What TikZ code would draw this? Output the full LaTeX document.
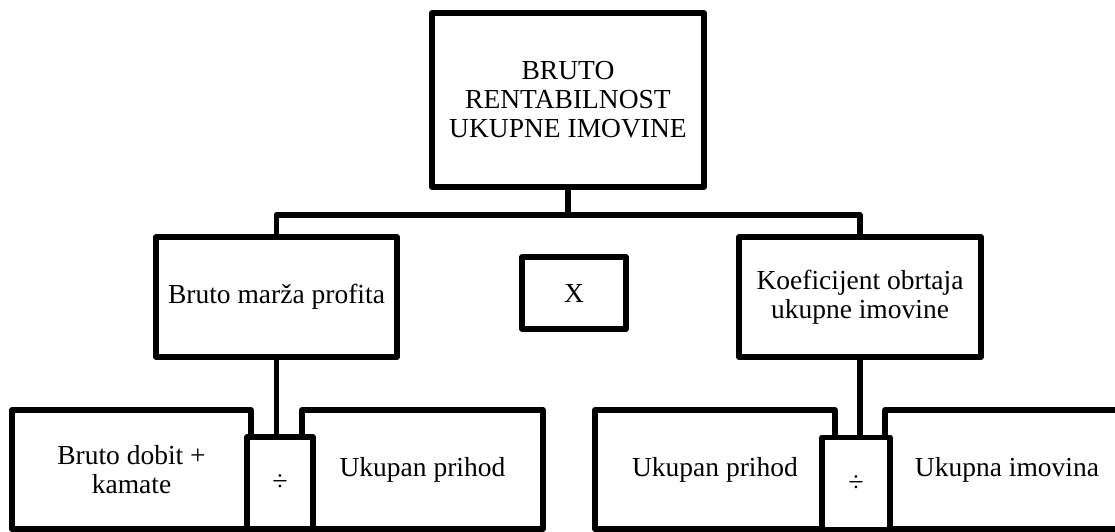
\documentclass[tikz,border=0pt]{standalone}
\usepackage{fontspec}
\setmainfont{Liberation Serif}
\usetikzlibrary{positioning,calc}
\tikzset{
    raspad/.style={
        x=1pt, y=-1pt,
        line width=5.5pt, line join=round,
        font=\fontsize{27.5}{29}\selectfont,
        % Stile per i riquadri con testo
        riquadro/.style={draw, rectangle, align=center, fill=white,
                         inner sep=2pt},
        % Stile per gli operatori (X, divisione)
        operatore/.style={draw, rectangle, align=center, fill=white,
                          inner sep=1pt}
    }
}

\begin{document}
\begin{tikzpicture}[raspad]
    \useasboundingbox (0,0) rectangle (1115,531);
    % livello superiore
    \node[riquadro, minimum width=272pt, minimum height=174pt] (vrh) at (568,100)
        {BRUTO\\RENTABILNOST\\UKUPNE IMOVINE};
    % livello intermedio
    \node[riquadro, minimum width=241pt, minimum height=120pt] (marza) at (276.5,297)
        {Bruto marža profita};
    \node[operatore, minimum width=104pt, minimum height=72pt] (puta) at (574,293) {X};
    \node[riquadro, minimum width=242pt, minimum height=120pt] (koef) at (860,297)
        {Koeficijent obrtaja\\ukupne imovine};
    % livello inferiore
    \node[riquadro, minimum width=239pt, minimum height=119pt] (dobit) at (131.5,469.5)
        {Bruto dobit +\\kamate};
    \node[riquadro, minimum width=241pt, minimum height=119pt] (prihodA) at (422.5,469.5)
        {Ukupan prihod};
    \node[operatore, minimum width=66pt, minimum height=92pt,
          font=\fontsize{28}{30}\selectfont] (dijeliA) at (280,483) {÷};
    \node[riquadro, minimum width=240pt, minimum height=119pt] (prihodB) at (715,469.5)
        {Ukupan prihod};
    \node[riquadro, minimum width=244pt, minimum height=119pt] (imovina) at (1007,469.5)
        {Ukupna imovina};
    \node[operatore, minimum width=68pt, minimum height=92pt,
          font=\fontsize{28}{30}\selectfont] (dijeliB) at (856,483.5) {÷};
    % collegamenti
    \coordinate (razvod) at ($(vrh.south)+(0,25)$);
    \draw (vrh.south) -- (razvod) -| (marza.north);
    \draw (razvod) -| (koef.north);
    \draw (marza.south) -- (marza.south |- dijeliA.north);
    \draw (koef.south) -- (koef.south |- dijeliB.north);
\end{tikzpicture}
\end{document}
